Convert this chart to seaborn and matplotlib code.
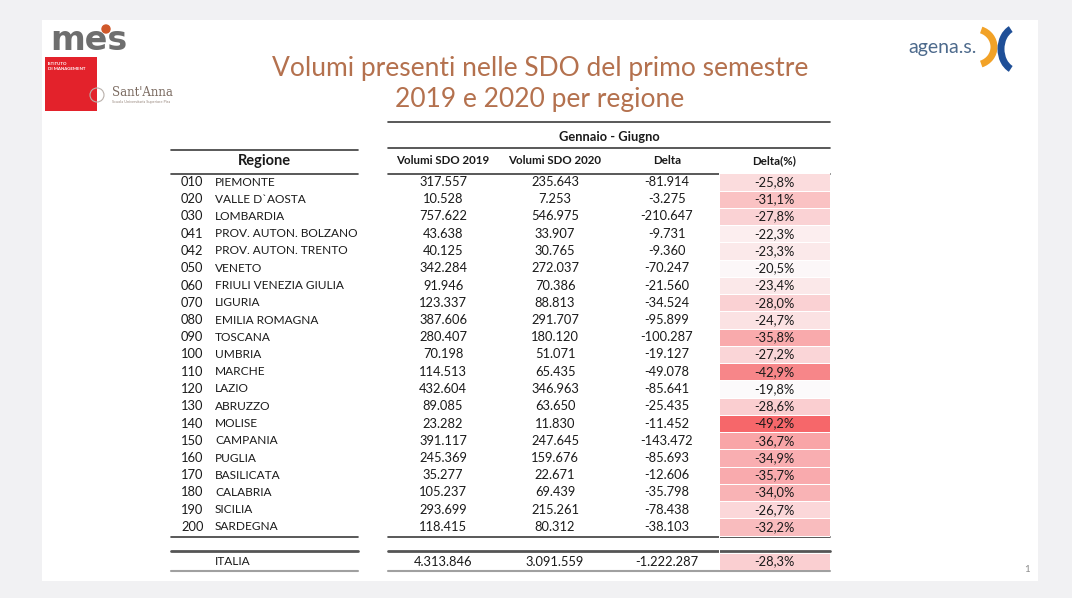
import numpy as np
import pandas as pd
import matplotlib
matplotlib.use("Agg")
import matplotlib.pyplot as plt
from matplotlib.colors import LinearSegmentedColormap
from matplotlib.patches import Rectangle, Arc, Circle
import seaborn as sns

# data of the table
codes = ["010", "020", "030", "041", "042", "050", "060", "070", "080", "090", "100",
         "110", "120", "130", "140", "150", "160", "170", "180", "190", "200"]
regions = ["PIEMONTE", "VALLE D`AOSTA", "LOMBARDIA", "PROV. AUTON. BOLZANO",
           "PROV. AUTON. TRENTO", "VENETO", "FRIULI VENEZIA GIULIA", "LIGURIA",
           "EMILIA ROMAGNA", "TOSCANA", "UMBRIA", "MARCHE", "LAZIO", "ABRUZZO",
           "MOLISE", "CAMPANIA", "PUGLIA", "BASILICATA", "CALABRIA", "SICILIA", "SARDEGNA"]
vol_2019 = [317557, 10528, 757622, 43638, 40125, 342284, 91946, 123337, 387606, 280407,
            70198, 114513, 432604, 89085, 23282, 391117, 245369, 35277, 105237, 293699, 118415]
vol_2020 = [235643, 7253, 546975, 33907, 30765, 272037, 70386, 88813, 291707, 180120,
            51071, 65435, 346963, 63650, 11830, 247645, 159676, 22671, 69439, 215261, 80312]
delta = [-81914, -3275, -210647, -9731, -9360, -70247, -21560, -34524, -95899, -100287,
         -19127, -49078, -85641, -25435, -11452, -143472, -85693, -12606, -35798, -78438, -38103]
delta_pct = [-25.8, -31.1, -27.8, -22.3, -23.3, -20.5, -23.4, -28.0, -24.7, -35.8, -27.2,
             -42.9, -19.8, -28.6, -49.2, -36.7, -34.9, -35.7, -34.0, -26.7, -32.2]
italia = {"vol_2019": 4313846, "vol_2020": 3091559, "delta": -1222287, "delta_pct": -28.3}

title = "Volumi presenti nelle SDO del primo semestre\n2019 e 2020 per regione"
headers = ["Volumi SDO 2019", "Volumi SDO 2020", "Delta", "Delta(%)"]


def fmt_int(v):
    return "{:,}".format(v).replace(",", ".")


def fmt_pct(v):
    return "{:.1f}%".format(v).replace(".", ",")


sns.set_theme(style="white")
plt.rcParams["font.family"] = ["Lato", "DejaVu Sans"]

W, H = 1072, 598
fig = plt.figure(figsize=(W / 100, H / 100), dpi=100)
fig.patch.set_facecolor("#f1f1f3")

ax = fig.add_axes([0, 0, 1, 1])
ax.set_xlim(0, W)
ax.set_ylim(H, 0)
ax.axis("off")
ax.add_patch(Rectangle((42, 20), 996, 561, facecolor="white", edgecolor="none", zorder=0))

# title
ax.text(540, 84, title, ha="center", va="center", fontsize=19, color="#b4714e",
        linespacing=1.33)

# logos (simplified)
ax.text(50, 40, "mes", ha="left", va="center", fontsize=24, fontweight="bold",
        color="#6e6e6e", family="DejaVu Sans")
ax.add_patch(Circle((106, 29), 4, color="#d0582a", zorder=3))
ax.add_patch(Rectangle((45, 57), 52, 54, facecolor="#e3222b", edgecolor="none"))
ax.text(48, 62, "ISTITUTO\nDI MANAGEMENT", ha="left", va="top", fontsize=3.2,
        color="white", fontweight="bold", linespacing=1.2)
ax.add_patch(Circle((97, 95), 7, facecolor="none", edgecolor="#b9b0aa", lw=0.8))
ax.text(112, 93, "Sant'Anna", ha="left", va="center", fontsize=8.5, color="#7a6a60",
        family="DejaVu Serif")
ax.text(112, 102, "Scuola Universitaria Superiore Pisa", ha="left", va="center",
        fontsize=2.8, color="#9a8a80")
ax.text(908, 48, "agena.s.", ha="left", va="center", fontsize=14, color="#4d6a8c")
ax.add_patch(Arc((975, 47), 38, 36, theta1=-70, theta2=70, lw=5, color="#f2a227"))
ax.add_patch(Arc((1018, 49), 34, 44, theta1=110, theta2=250, lw=5, color="#1f4f97"))

# layout (pixels)
col_x = [443, 555, 667, 774]
row0, rstep = 182, 17.25
row_y = [row0 + i * rstep for i in range(len(regions))]
y_ita = row0 + 22 * rstep
left_l, left_r = 171, 358
right_l, right_r = 388, 830
dark = "#3c3c3c"

# table lines
ax.plot([right_l, right_r], [122, 122], color=dark, lw=1.2)
ax.plot([right_l, right_r], [148, 148], color=dark, lw=1.2)
ax.plot([left_l, left_r], [150, 150], color=dark, lw=1.2)
for y in [174, 537]:
    ax.plot([left_l, left_r], [y, y], color=dark, lw=1.2)
    ax.plot([right_l, right_r], [y, y], color=dark, lw=1.2)
ax.plot([left_l, left_r], [551, 551], color="#555555", lw=2)
ax.plot([right_l, right_r], [551, 551], color="#555555", lw=2)
ax.plot([left_l, left_r], [571, 571], color="#a0a0a0", lw=1.5)
ax.plot([right_l, right_r], [571, 571], color="#a0a0a0", lw=1.5)

# headers
txt = dict(fontsize=9.3, color="#1a1a1a", va="center")
name_txt = dict(fontsize=8.6, color="#1a1a1a", va="center")
ax.text(609, 137, "Gennaio - Giugno", ha="center", fontweight="bold", **txt)
ax.text(264, 161, "Regione", ha="center", fontweight="bold", fontsize=10.5,
        color="#1a1a1a", va="center")
for x, h in zip(col_x, headers):
    ax.text(x, 161, h, ha="center", fontweight="bold", fontsize=8.3, color="#1a1a1a",
            va="center")

# rows
for y, c, r, a, b, d in zip(row_y, codes, regions, vol_2019, vol_2020, delta):
    ax.text(181, y, c, ha="left", **txt)
    ax.text(215, y, r, ha="left", **name_txt)
    ax.text(col_x[0], y, fmt_int(a), ha="center", **txt)
    ax.text(col_x[1], y, fmt_int(b), ha="center", **txt)
    ax.text(col_x[2], y, fmt_int(d), ha="center", **txt)
ax.text(215, y_ita, "ITALIA", ha="left", **name_txt)
ax.text(col_x[0], y_ita, fmt_int(italia["vol_2019"]), ha="center", **txt)
ax.text(col_x[1], y_ita, fmt_int(italia["vol_2020"]), ha="center", **txt)
ax.text(col_x[2], y_ita, fmt_int(italia["delta"]), ha="center", **txt)

ax.text(1027, 569, "1", ha="center", va="center", fontsize=7, color="#8a8a8a")

# Delta(%) column as heatmap (Excel style colour scale)
pct = delta_pct + [np.nan, italia["delta_pct"]]
df = pd.DataFrame({"Delta(%)": pct})
labels = np.array([[fmt_pct(v) if not np.isnan(v) else ""] for v in pct])
cmap = LinearSegmentedColormap.from_list("excel_red", ["#F6676A", "#FCFAFB"])
top = row0 - rstep / 2
bottom = top + len(pct) * rstep
hx = fig.add_axes([719 / W, 1 - bottom / H, 111 / W, (bottom - top) / H])
sns.heatmap(df, ax=hx, cmap=cmap, vmin=min(delta_pct), vmax=max(delta_pct),
            annot=labels, fmt="", cbar=False, linewidths=0.6, linecolor="white",
            annot_kws={"fontsize": 9.3, "color": "#1a1a1a"})
hx.set_facecolor("none")
hx.axis("off")

fig.savefig("out.png", dpi=100, facecolor=fig.get_facecolor())
